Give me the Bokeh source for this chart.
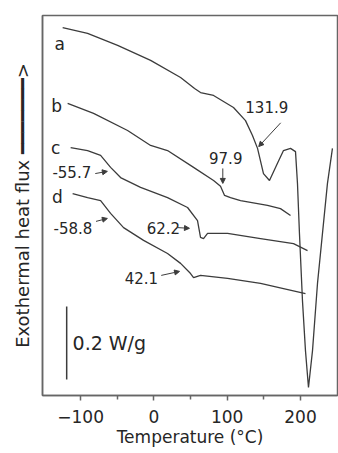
from bokeh.plotting import figure
from bokeh.models import FixedTicker, Arrow, NormalHead, Range1d
from bokeh.core.properties import value
from bokeh.embed import file_html
from bokeh.resources import INLINE

# ---- data (temperature in °C, heat flow in W/g with arbitrary offset) ----
a_T = [-124.5, -90.5, -49.5, -4.5, 36.4, 55.5, 63.6, 81.4, 108.6, 125.0, 134.5, 141.4,
       149.5, 157.7, 168.6, 176.8, 186.4, 193.2, 195.9, 198.6, 202.7, 206.8, 210.9,
       216.4, 223.2, 230.0, 236.8, 243.6]
a_Q = [1.008, 0.992, 0.959, 0.918, 0.871, 0.841, 0.830, 0.822, 0.789, 0.753, 0.712, 0.677,
       0.608, 0.589, 0.636, 0.671, 0.677, 0.668, 0.581, 0.444, 0.260, 0.123, 0.022,
       0.123, 0.307, 0.444, 0.581, 0.677]

b_T = [-117.7, -82.3, -35.9, -4.5, 18.6, 54.1, 81.4, 90.9, 96.4, 104.5, 118.2, 155.0, 172.7, 186.4]
b_Q = [0.800, 0.773, 0.726, 0.685, 0.671, 0.625, 0.589, 0.573, 0.548, 0.542, 0.534, 0.521, 0.512, 0.493]

c_T = [-113.6, -90.5, -72.7, -59.1, -45.5, -18.2, 18.6, 45.9, 59.5, 63.6, 67.7, 73.2, 100.5, 145.5, 190.5, 209.6]
c_Q = [0.679, 0.671, 0.658, 0.625, 0.597, 0.570, 0.542, 0.515, 0.479, 0.433, 0.430, 0.444, 0.444, 0.430, 0.416, 0.397]

d_T = [-110.9, -90.5, -72.7, -59.1, -41.4, -14.1, 18.6, 36.4, 50.0, 54.1, 63.6, 100.5, 145.5, 176.8, 206.8]
d_Q = [0.553, 0.542, 0.534, 0.499, 0.460, 0.425, 0.389, 0.362, 0.334, 0.323, 0.329, 0.321, 0.307, 0.293, 0.279]

curve_names = ["a", "b", "c", "d"]
transition_labels = ["131.9", "97.9", "-55.7", "-58.8", "62.2", "42.1"]
x_ticks = [-100, 0, 100, 200]
x_minor = [-50, 50, 150]
scale_bar_value = 0.2  # W/g

# ---- layout (positions of annotations, in data coordinates) ----
name_pos = [(-128.6, 0.962), (-132.7, 0.792), (-134.0, 0.677), (-131.8, 0.545)]
label_pos = [(154.0, 0.789), (98.0, 0.651), (-112.0, 0.611), (-110.5, 0.460), (13.0, 0.460), (-17.0, 0.323)]
arrow_seg = [((173.0, 0.747), (143.0, 0.682)),
             ((94.0, 0.622), (94.0, 0.581)),
             ((-80.0, 0.608), (-63.5, 0.614)),
             ((-79.0, 0.477), (-63.5, 0.485)),
             ((32.0, 0.460), (48.5, 0.458)),
             ((10.0, 0.329), (35.0, 0.340))]

FONT = "DejaVu Sans"
TXT = "#262626"
LINE = "#3c3c3c"

p = figure(width=338, height=453, x_range=Range1d(-152, 250.5), y_range=Range1d(0, 1.041),
           output_backend="svg", toolbar_location=None,
           min_border_left=42, min_border_right=1, min_border_top=15, min_border_bottom=58)

p.xgrid.visible = False
p.ygrid.visible = False
p.outline_line_color = "#666666"
p.outline_line_width = 1.5
p.background_fill_color = "white"
p.border_fill_color = "white"

# x axis
xa = p.xaxis[0]
xa.ticker = FixedTicker(ticks=x_ticks, minor_ticks=x_minor)
xa.axis_label = "Temperature (°C)"
xa.axis_label_text_font = FONT
xa.axis_label_text_font_size = "17px"
xa.axis_label_text_font_style = "normal"
xa.axis_label_text_color = TXT
xa.axis_label_standoff = 1
xa.major_label_text_font = FONT
xa.major_label_text_font_size = "17px"
xa.major_label_text_color = TXT
xa.major_label_standoff = 9
xa.major_tick_in = 0
xa.major_tick_out = 5
xa.minor_tick_in = 0
xa.minor_tick_out = 4
xa.axis_line_color = "#666666"
xa.axis_line_width = 1.5
xa.major_tick_line_color = "#666666"
xa.major_tick_line_width = 1.5
xa.minor_tick_line_color = "#666666"
xa.minor_tick_line_width = 1.5

# y axis (label only, with a long arrow)
ya = p.yaxis[0]
ya.ticker = FixedTicker(ticks=[])
ya.major_label_text_font_size = "0px"
ya.major_tick_out = 0
ya.minor_tick_out = 0
ya.axis_label = "Exothermal heat flux \u2501\u2501\u2501\u2501\u2501\u2501\u2501>"
ya.axis_label_text_font = FONT
ya.axis_label_text_font_size = "18px"
ya.axis_label_text_font_style = "normal"
ya.axis_label_text_color = TXT
ya.axis_label_standoff = 10
ya.axis_line_color = "#666666"
ya.axis_line_width = 1.5

# curves
for T, Q in [(a_T, a_Q), (b_T, b_Q), (c_T, c_Q), (d_T, d_Q)]:
    p.line(T, Q, line_color=LINE, line_width=1.3)

# curve names
p.text(x=[pt[0] for pt in name_pos], y=[pt[1] for pt in name_pos], text=curve_names,
       text_font=value(FONT), text_font_size="17px", text_color=TXT,
       text_align="center", text_baseline="middle")

# transition labels
p.text(x=[pt[0] for pt in label_pos], y=[pt[1] for pt in label_pos], text=transition_labels,
       text_font=value(FONT), text_font_size="15px", text_color=TXT,
       text_align="center", text_baseline="middle")

for (s, e) in arrow_seg:
    p.add_layout(Arrow(end=NormalHead(size=5, line_color=LINE, fill_color=LINE, line_width=1),
                       x_start=s[0], y_start=s[1], x_end=e[0], y_end=e[1],
                       line_color=LINE, line_width=1))

# scale bar
p.segment(x0=[-119.0], y0=[0.044], x1=[-119.0], y1=[0.044 + scale_bar_value],
          line_color=LINE, line_width=1.5)
p.text(x=[-111.0], y=[0.145], text=[f"{scale_bar_value} W/g"],
       text_font=value(FONT), text_font_size="19px", text_color=TXT,
       text_align="left", text_baseline="middle")

open("out.html", "w").write(file_html(p, INLINE))
